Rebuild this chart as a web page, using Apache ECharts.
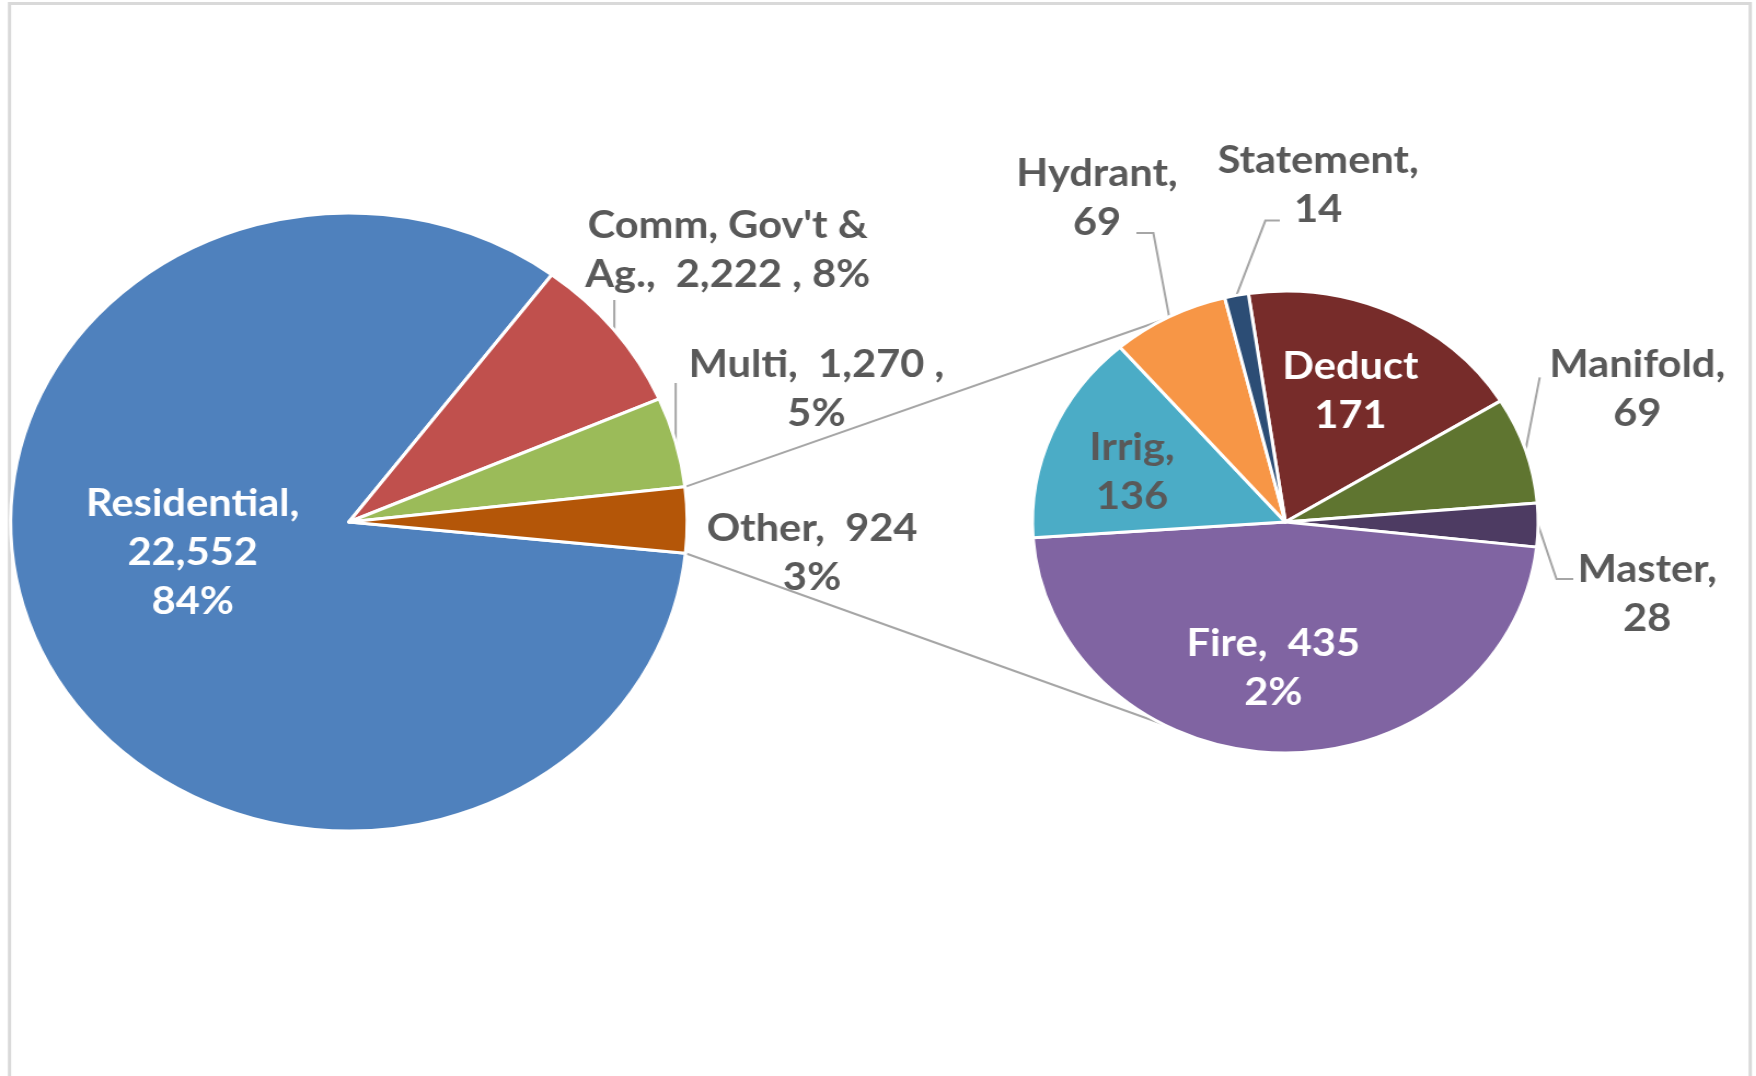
<!DOCTYPE html>
<html>
<head>
<meta charset="utf-8">
<script src="https://cdn.jsdelivr.net/npm/echarts@6/dist/echarts.min.js"></script>
<style>
html,body{margin:0;padding:0;background:#fff;overflow:hidden;}
#wrap{position:absolute;left:0;top:0;width:1756px;height:1076px;overflow:hidden;}
#c{position:absolute;left:0;top:0;width:1604px;height:1076px;transform:scaleX(1.0948);transform-origin:0 0;}
</style>
</head>
<body>
<div id="wrap"><div id="c"></div></div>
<script>
// ---- data ----
var mainNames  = ['Residential', "Comm, Gov't & Ag.", 'Multi', 'Other'];
var mainValues = [22552, 2222, 1270, 924];
var otherNames  = ['Deduct', 'Manifold', 'Master', 'Fire', 'Irrig', 'Hydrant', 'Statement'];
var otherValues = [171, 69, 28, 435, 136, 69, 14];

// ---- styles ----
var mainColors  = ['#4F81BD', '#C0504D', '#9BBB59', '#B45608'];
var otherColors = ['#772C2A', '#5F7530', '#4D3B62', '#8064A2', '#4BACC6', '#F79646', '#2C4D75'];
var FONT = 'Lato';
var GRAY = '#595959';
var L_C = [318.7, 522], L_R = 309;
var R_C = [1174, 522], R_R = 231;
var LABEL_DY = 2.5;

var grandTotal = mainValues.reduce(function(a,b){return a+b;},0);
function fmt(v){ return v.toLocaleString('en-US'); }
function pct(v){ return Math.round(v/grandTotal*100) + '%'; }

var mainText = {
  'Residential': function(n,v){ return n + ',\n' + fmt(v) + '\n' + pct(v); },
  "Comm, Gov't & Ag.": function(n,v){ return "Comm, Gov't &\nAg.,  " + fmt(v) + ' , ' + pct(v); },
  'Multi': function(n,v){ return n + ',  ' + fmt(v) + ' ,\n' + pct(v); },
  'Other': function(n,v){ return n + ',  ' + fmt(v) + '\n' + pct(v); }
};
var otherText = {
  'Deduct': function(n,v){ return n + '\n' + fmt(v); },
  'Fire': function(n,v){ return n + ',  ' + fmt(v) + '\n' + pct(v); }
};
function defText(n,v){ return n + ',\n' + fmt(v); }

// label placement (offset from its pie centre) and leader-line bends
var mainLabelPos = {
  'Residential': {o:[-142.7, 28.5], color:'#fff', inside:true},
  "Comm, Gov't & Ag.": {o:[346, -274.5], bend:[[null,-222]]},
  'Multi': {o:[427, -135], bend:[[null,-139]]},
  'Other': {o:[423, 28.5], noLine:true}
};
var otherLabelPos = {
  'Deduct': {o:[59.5, -133], color:'#fff', inside:true},
  'Irrig': {o:[-140, -52], inside:true},
  'Fire': {o:[-11, 144], color:'#fff', inside:true},
  'Hydrant': {o:[-172, -326.6], bend:[[-120.5,-289],[-136,-289]]},
  'Statement': {o:[30, -339], bend:[[-18.2,-301.4],[-5,-301.4]]},
  'Manifold': {o:[321.5, -135], bend:[[232.4,-144.6]]},
  'Master': {o:[330.5, 70], bend:[[247.7,57],[263,57]]}
};

function buildData(names, values, colors, posMap){
  return names.map(function(n,i){
    var p = posMap[n];
    var d = {name:n, value:values[i], itemStyle:{color:colors[i]}};
    d.label = {color: p.color || GRAY};
    d.labelLine = {show: !(p.inside || p.noLine)};
    return d;
  });
}

function makeLayout(names, posMap, center){
  return function(params){
    var n = names[params.dataIndex];
    var p = posMap[n];
    var res = {x: center[0] + p.o[0], y: center[1] + p.o[1] + LABEL_DY, align:'center', verticalAlign:'middle'};
    if (p.bend && params.labelLinePoints) {
      var p0 = params.labelLinePoints[0];
      var pts = [[p0[0], p0[1]]];
      p.bend.forEach(function(b){
        pts.push([b[0] == null ? p0[0] : center[0] + b[0], center[1] + b[1]]);
      });
      res.labelLinePoints = pts;
    }
    return res;
  };
}

var labelBase = {
  show:true, position:'outside', fontFamily:FONT, fontWeight:'bold', fontSize:38,
  lineHeight:49, align:'center'
};

var chart = echarts.init(document.getElementById('c'), null, {renderer:'canvas'});
chart.setOption({
  animation:false,
  backgroundColor:'#fff',
  series:[{
    type:'pie', center:L_C, radius:L_R, startAngle:-5.8, clockwise:true,
    avoidLabelOverlap:false, emphasis:{disabled:true}, silent:true,
    itemStyle:{borderColor:'#fff', borderWidth:3},
    label: Object.assign({}, labelBase, {formatter:function(pr){ return mainText[pr.name](pr.name, pr.value); }}),
    labelLine:{show:true, length:10, length2:0, lineStyle:{color:'#A6A6A6', width:2}},
    labelLayout: makeLayout(mainNames, mainLabelPos, L_C),
    data: buildData(mainNames, mainValues, mainColors, mainLabelPos)
  },{
    type:'pie', center:R_C, radius:R_R, startAngle:98.4, clockwise:true,
    avoidLabelOverlap:false, emphasis:{disabled:true}, silent:true,
    itemStyle:{borderColor:'#fff', borderWidth:3},
    label: Object.assign({}, labelBase, {formatter:function(pr){ return (otherText[pr.name]||defText)(pr.name, pr.value); }}),
    labelLine:{show:true, length:10, length2:0, lineStyle:{color:'#A6A6A6', width:2}},
    labelLayout: makeLayout(otherNames, otherLabelPos, R_C),
    data: buildData(otherNames, otherValues, otherColors, otherLabelPos)
  }]
});

// pie-of-pie connector lines, from the layout of the "Other" slice
var sData = chart.getModel().getSeriesByIndex(0).getData();
var lay = sData.getItemLayout(mainNames.indexOf('Other'));
var rLay = chart.getModel().getSeriesByIndex(1).getData().getItemLayout(0);
var a1 = lay.startAngle, a2 = lay.endAngle;
var ang = 119 * Math.PI / 180;
var pTop = [lay.cx + lay.r*Math.cos(a1), lay.cy + lay.r*Math.sin(a1)];
var pBot = [lay.cx + lay.r*Math.cos(a2), lay.cy + lay.r*Math.sin(a2)];
if (pTop[1] > pBot[1]) { var t = pTop; pTop = pBot; pBot = t; }
var qTop = [rLay.cx + rLay.r*Math.cos(ang), rLay.cy - rLay.r*Math.sin(ang)];
var qBot = [rLay.cx + rLay.r*Math.cos(ang), rLay.cy + rLay.r*Math.sin(ang)];
chart.setOption({graphic:[
  {type:'rect', silent:true, shape:{x:8.7, y:3.5, width:1590, height:1200},
   style:{fill:null, stroke:'#D9D9D9', lineWidth:3}},
  {type:'line', silent:true, z:-1, shape:{x1:pTop[0], y1:pTop[1], x2:qTop[0], y2:qTop[1]}, style:{stroke:'#A6A6A6', lineWidth:2}},
  {type:'line', silent:true, z:-1, shape:{x1:pBot[0], y1:pBot[1], x2:qBot[0], y2:qBot[1]}, style:{stroke:'#A6A6A6', lineWidth:2}}
]});
</script>
</body>
</html>
